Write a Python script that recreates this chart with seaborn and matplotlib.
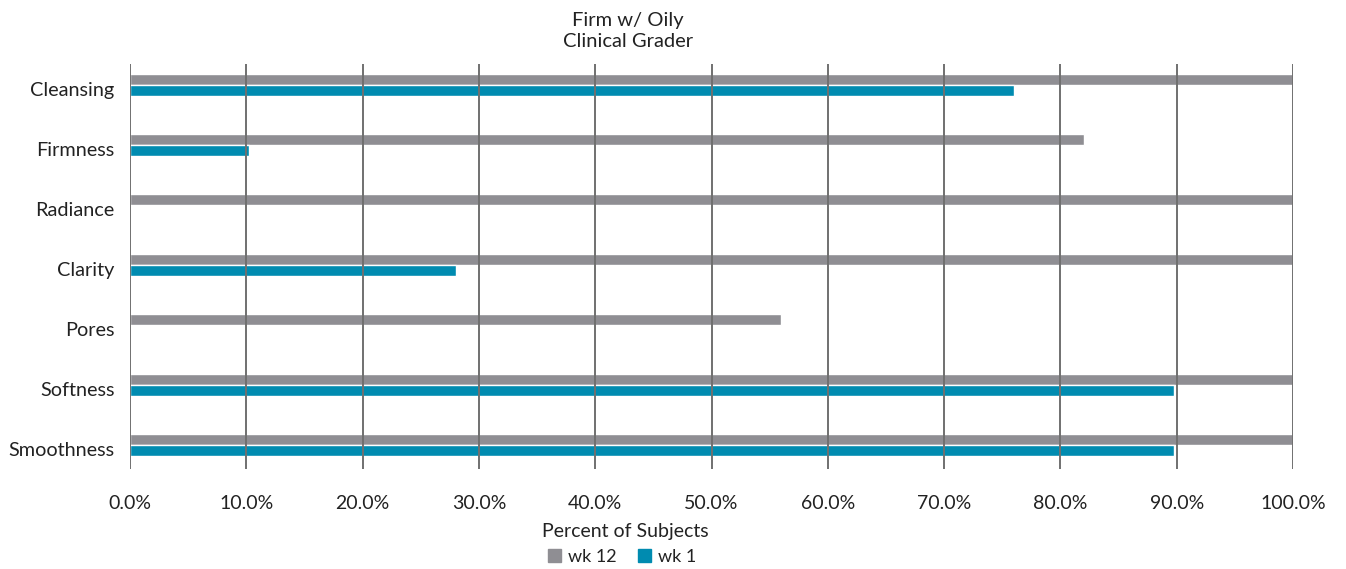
import pandas as pd
import matplotlib.pyplot as plt
import matplotlib.transforms as mtransforms
import seaborn as sns
from matplotlib.ticker import PercentFormatter

categories = ["Cleansing", "Firmness", "Radiance", "Clarity", "Pores", "Softness", "Smoothness"]
wk12 = [100.0, 82.0, 100.0, 100.0, 56.0, 100.0, 100.0]
wk1 = [76.0, 10.2, 0.0, 28.0, 0.0, 89.8, 89.8]
series = ["wk 12", "wk 1"]
colors = {"wk 12": "#8f8e93", "wk 1": "#008bb0"}

df = pd.DataFrame({
    "Attribute": categories * 2,
    "Week": ["wk 12"] * len(categories) + ["wk 1"] * len(categories),
    "Percent": wk12 + wk1,
})

sns.set_style("white")
plt.rcParams['font.family'] = ['Lato', 'DejaVu Sans']

fig = plt.figure(figsize=(13.46, 5.69), dpi=100)
ax = fig.add_axes([130 / 1346, 1 - 469 / 569, (1293 - 130) / 1346, (469 - 64) / 569])

sns.barplot(data=df, y="Attribute", x="Percent", hue="Week", hue_order=series,
            order=categories, palette=colors, orient="h", width=0.37,
            saturation=1, ax=ax, legend=False)

ax.set_xlim(0, 100)
ax.set_ylim(6.4, -0.35)
ax.set_xticks(range(0, 101, 10))
ax.xaxis.set_major_formatter(PercentFormatter(decimals=1))
ax.grid(axis="x", color="#707070", linewidth=1.4)
ax.grid(axis="y", visible=False)
ax.set_axisbelow(False)
for s in ax.spines.values():
    s.set_visible(False)
ax.tick_params(length=0, colors="#222222")
ax.tick_params(axis="x", pad=19, labelsize=14)
ax.tick_params(axis="y", pad=11, labelsize=14.3)
ax.set_ylabel("")
ax.set_xlabel("")

# category labels sit a little below the pair centre, as in the source
shift = mtransforms.ScaledTranslation(0, -4 / 100, fig.dpi_scale_trans)
for lbl in ax.get_yticklabels():
    lbl.set_transform(lbl.get_transform() + shift)

fig.text(628 / 1346, 1 - 31 / 569, "Firm w/ Oily\nClinical Grader", ha="center", va="center",
         fontsize=14.5, color="#222222", linespacing=1.25)
fig.text(625 / 1346, 1 - 531 / 569, "Percent of Subjects", ha="center", va="center",
         fontsize=14, color="#222222")

handles = [plt.Rectangle((0, 0), 1, 1, color=colors[s]) for s in series]
fig.legend(handles, series, loc="center", bbox_to_anchor=(622 / 1346, 1 - 557 / 569),
           ncol=2, frameon=False, fontsize=13, handlelength=0.7, handleheight=0.7,
           handletextpad=0.4, columnspacing=1.2, labelcolor="#222222")

fig.savefig("out.png", dpi=100)
